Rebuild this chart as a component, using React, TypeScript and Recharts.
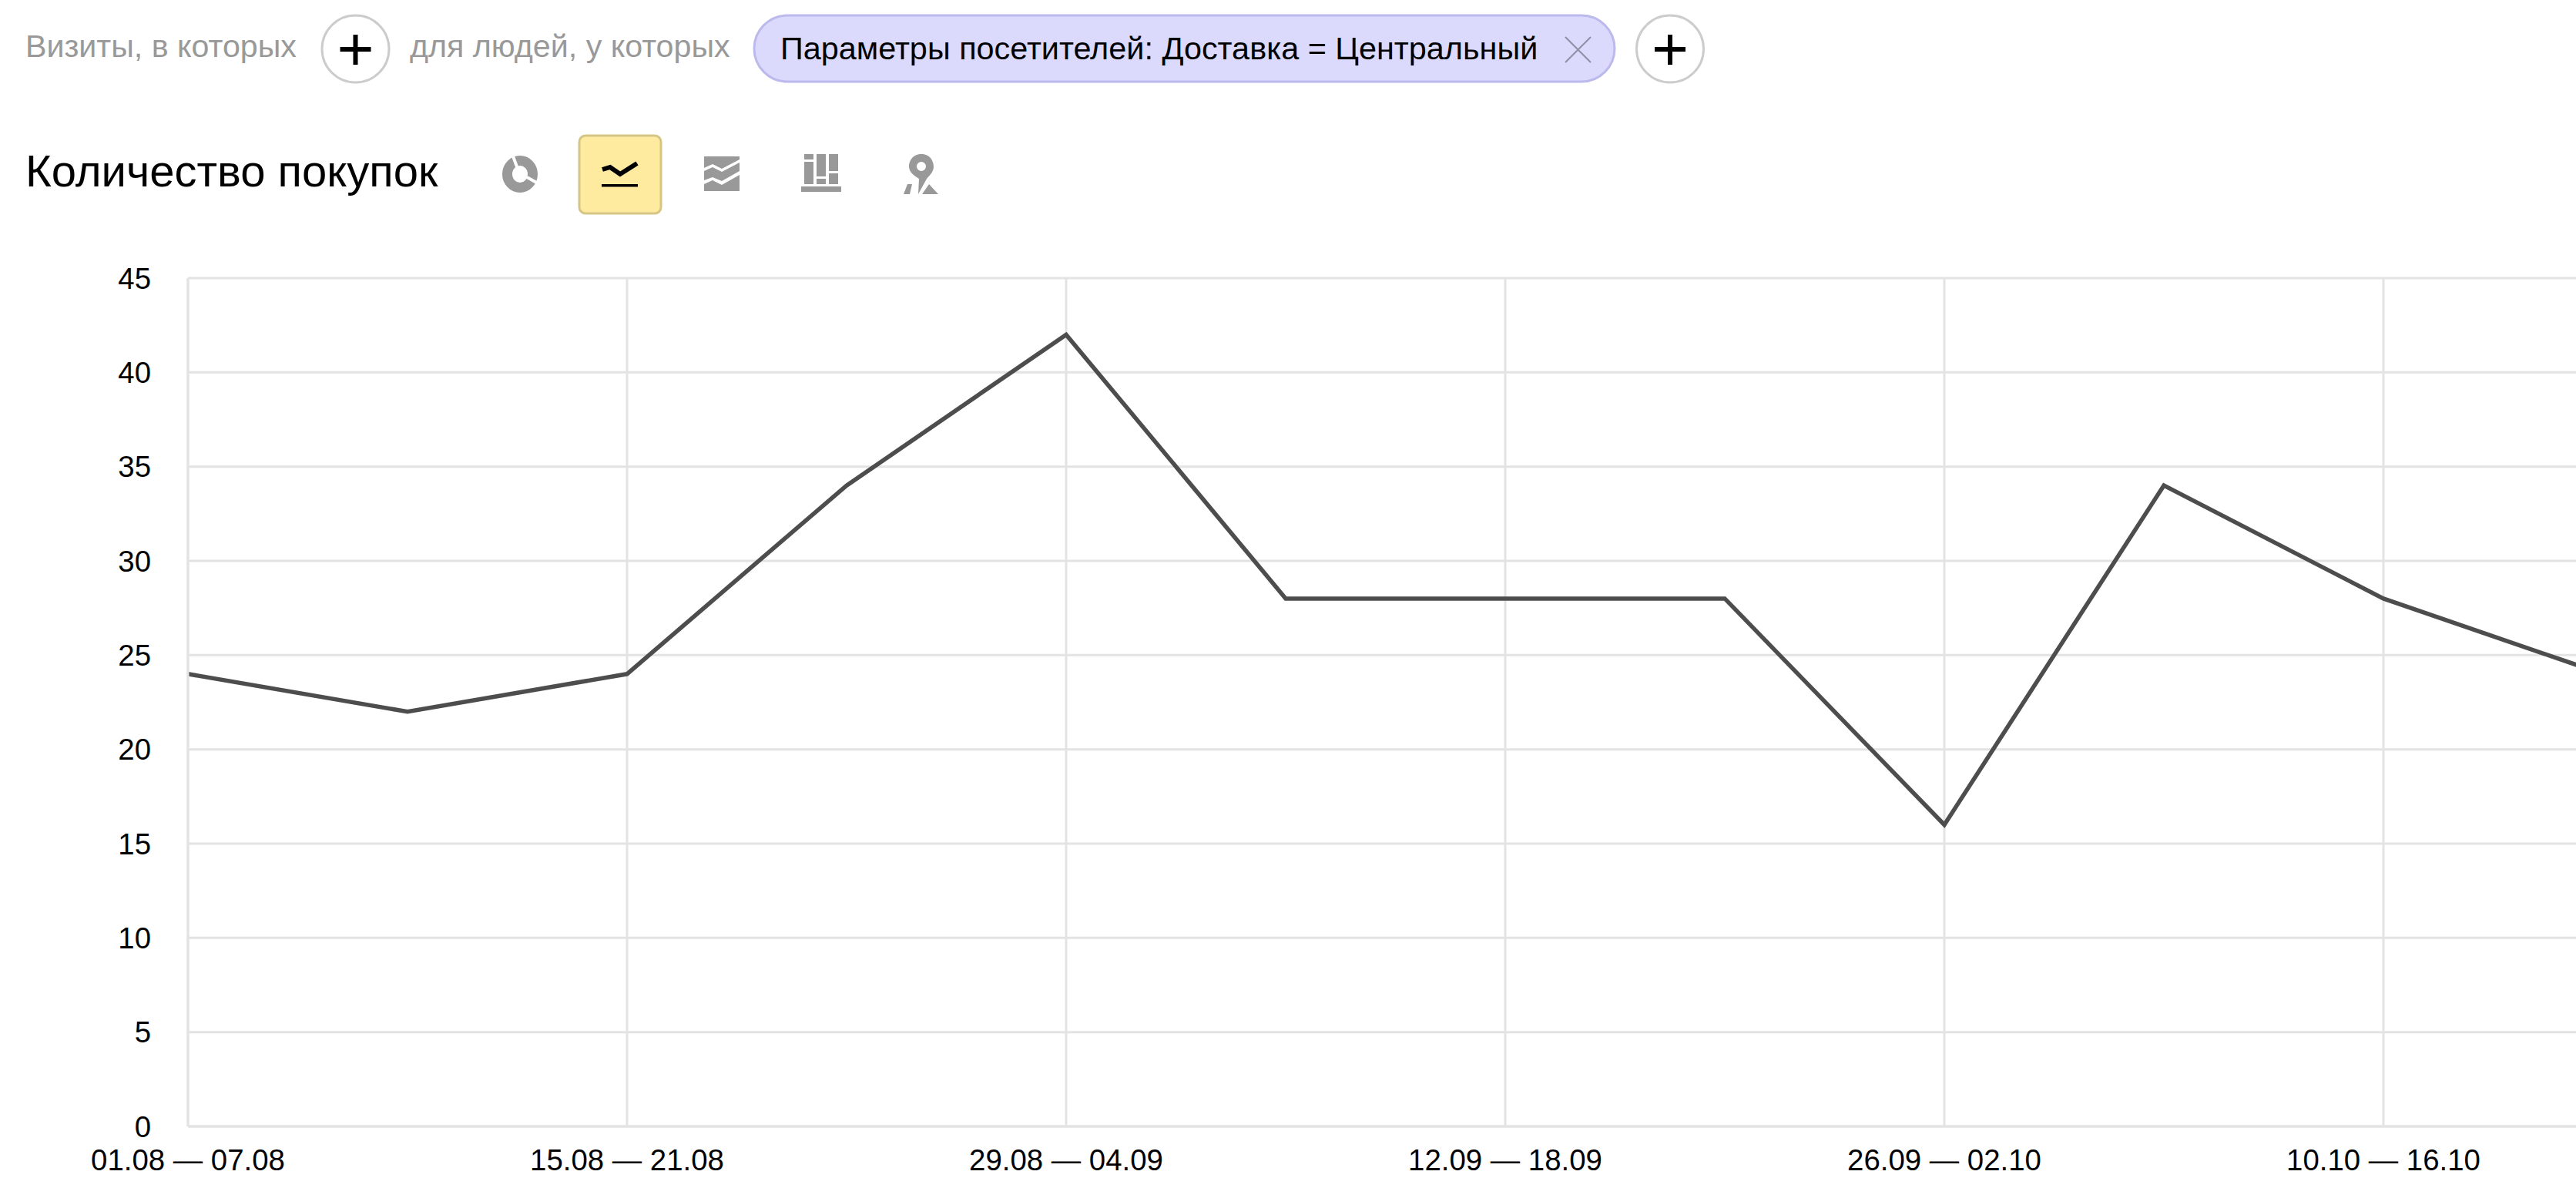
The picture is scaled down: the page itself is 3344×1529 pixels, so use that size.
import React from "react";
import { LineChart, Line, XAxis, YAxis, CartesianGrid } from "recharts";

const categories = [
  "01.08 — 07.08", "08.08 — 14.08", "15.08 — 21.08", "22.08 — 28.08",
  "29.08 — 04.09", "05.09 — 11.09", "12.09 — 18.09", "19.09 — 25.09",
  "26.09 — 02.10", "03.10 — 09.10", "10.10 — 16.10", "17.10 — 23.10",
];
const purchases = [24, 22, 24, 34, 42, 28, 28, 28, 16, 34, 28, 24];
const yTicks = [0, 5, 10, 15, 20, 25, 30, 35, 40, 45];
const rows = categories.map((name, i) => ({ name, value: purchases[i] }));

const FONT = "'Liberation Sans', Arial, sans-serif";

const AddButton = ({ cx }: { cx: number }) => (
  <g>
    <circle cx={cx} cy={63.5} r={43.5} fill="#fff" stroke="#cccccc" strokeWidth={3} />
    <path d={`M${cx - 20} 64H${cx + 20}M${cx} 45V84`} stroke="#000" strokeWidth={6} fill="none" />
  </g>
);

const Header = () => (
  <svg width={3344} height={300} style={{ position: "absolute", left: 0, top: 0 }}>
    <g fontFamily={FONT}>
      <text x={33} y={74} fontSize={41.2} fill="#999999">Визиты, в которых</text>
      <AddButton cx={461.5} />
      <text x={532} y={74} fontSize={41.2} fill="#999999">для людей, у которых</text>
      <rect x={979} y={20} width={1117} height={86} rx={43} fill="#dcdafc" stroke="#bcbaec" strokeWidth={3} />
      <text x={1013} y={77} fontSize={41.4} fill="#000">Параметры посетителей: Доставка = Центральный</text>
      <path d="M2032 48L2065 81M2065 48L2032 81" stroke="#8f8fa5" strokeWidth={2} fill="none" />
      <AddButton cx={2168} />
      <text x={33} y={242} fontSize={58} fill="#000">Количество покупок</text>

      {/* pie icon */}
      <g>
        <ellipse cx={675} cy={226} rx={16.5} ry={17.5} fill="none" stroke="#999" strokeWidth={13} />
        <path d="M665 200L673 222M684 230L702 240" stroke="#fff" strokeWidth={4} fill="none" />
      </g>
      {/* selected line icon */}
      <rect x={752} y={176} width={106} height={101} rx={8} fill="#ffeba0" stroke="#d6c685" strokeWidth={3} />
      <path d="M782 220L792 217L805 226L827 212" stroke="#000" strokeWidth={6} fill="none" />
      <rect x={781} y={239} width={47} height={3.5} fill="#000" />
      {/* stacked icon */}
      <path d="M914 203H960V207L937 219L925 213L914 218Z" fill="#999" />
      <path d="M914 222L925 217L937 223L960 211V222L937 235L925 230L914 234Z" fill="#999" />
      <path d="M914 239L925 234L937 240L960 227V248H914Z" fill="#999" />
      {/* treemap icon */}
      <g fill="#999">
        <rect x={1044} y={200} width={12} height={7} />
        <rect x={1044} y={210} width={12} height={29} />
        <rect x={1060} y={200} width={12} height={29} />
        <rect x={1060} y={232} width={12} height={7} />
        <rect x={1076} y={200} width={12} height={22} />
        <rect x={1076} y={225} width={12} height={14} />
        <rect x={1040} y={242} width={52} height={7} />
      </g>
      {/* map pin icon */}
      <g fill="#999">
        <path fillRule="evenodd" d="M1196 200C1208 200 1212 210 1212 216C1212 224 1206 228 1203 232L1192 252L1193 232C1187 228 1180 224 1180 216C1180 210 1184 200 1196 200ZM1196 210A6 6 0 1 0 1196 222A6 6 0 1 0 1196 210Z" />
        <path d="M1178 239H1184L1181 252H1173Z" />
        <path d="M1206 239L1218 252H1197Z" />
      </g>
    </g>
  </svg>
);

export default function App() {
  return (
    <div style={{ position: "absolute", left: 0, top: 0, width: 3344, height: 1529, overflow: "hidden", background: "#fff" }}>
      <Header />
      <div style={{ position: "absolute", left: 0, top: 0 }}>
        <LineChart width={3400} height={1529} data={rows} margin={{ top: 361, right: 21, bottom: 0, left: 0 }}>
          <CartesianGrid stroke="#e3e3e3" strokeWidth={3} />
          <XAxis
            dataKey="name"
            interval={1}
            height={67}
            tickLine={false}
            axisLine={{ stroke: "#e3e3e3", strokeWidth: 3 }}
            tick={{ fontSize: 38.4, fill: "#000", fontFamily: FONT }}
            tickMargin={24}
          />
          <YAxis
            width={244}
            domain={[0, 45]}
            ticks={yTicks}
            interval={0}
            tickLine={false}
            axisLine={{ stroke: "#e3e3e3", strokeWidth: 3 }}
            tick={{ fontSize: 38.4, fill: "#000", fontFamily: FONT }}
            tickMargin={42}
          />
          <Line
            type="linear"
            dataKey="value"
            stroke="#4d4d4d"
            strokeWidth={5.5}
            dot={false}
            isAnimationActive={false}
          />
        </LineChart>
      </div>
    </div>
  );
}
